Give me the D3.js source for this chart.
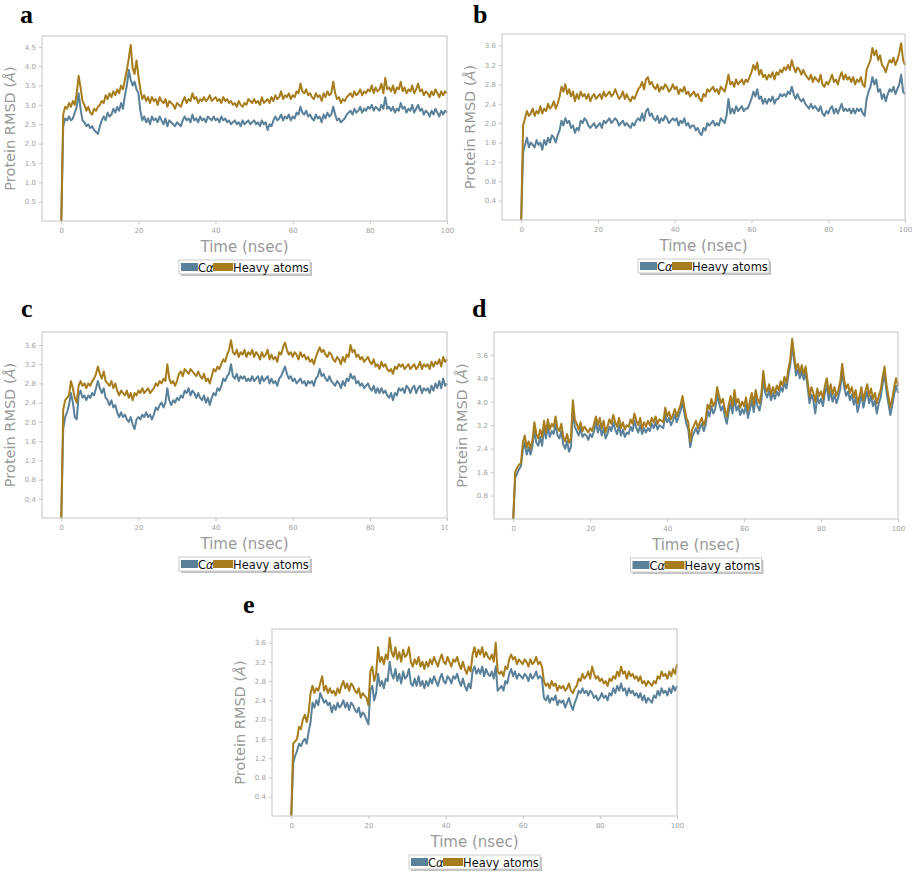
<!DOCTYPE html>
<html>
<head>
<meta charset="utf-8">
<script src="https://cdn.jsdelivr.net/npm/d3@7"></script>
<style>
body { margin: 0; background: #fff; }
</style>
</head>
<body>
<div id="hook"></div>
<script>
// RMSD sampled every 0.5 ns, 0..100 ns
var timeStep = 0.5;
var xTicks = [0, 20, 40, 60, 80, 100];
var yTicksA = [0.5, 1.0, 1.5, 2.0, 2.5, 3.0, 3.5, 4.0, 4.5];
var yTicksB = [0.4, 0.8, 1.2, 1.6, 2.0, 2.4, 2.8, 3.2, 3.6];
var yTicksD = [0.8, 1.6, 2.4, 3.2, 4.0, 4.8, 5.6];
var seriesNames = ["C\u03b1", "Heavy atoms"];

var aHeavy = [0, 2.75, 2.95, 2.9, 3.05, 2.95, 3.1, 3.0, 3.3, 3.75,
  3.45, 3.1, 3.0, 2.85, 2.95, 2.8, 2.75, 2.9, 2.85, 2.95,
  3.0, 3.1, 3.05, 3.25, 3.15, 3.3, 3.2, 3.35, 3.25, 3.4,
  3.3, 3.5, 3.4, 3.65, 3.9, 4.2, 4.55, 3.95, 3.8, 4.15,
  3.75, 3.4, 3.15, 3.25, 3.1, 3.2, 3.05, 3.2, 3.1, 3.15,
  3.0, 3.2, 3.1, 3.05, 3.15, 2.95, 3.1, 3.05, 3.0, 2.9,
  3.05, 3.0, 2.95, 3.1, 3.2, 3.05, 3.15, 3.1, 3.3, 3.15,
  3.2, 3.05, 3.15, 3.1, 3.2, 3.1, 3.15, 3.25, 3.1, 3.15,
  3.2, 3.1, 3.15, 3.05, 3.2, 3.1, 3.15, 3.05, 3.1, 3.0,
  3.05, 2.95, 3.1, 3.0, 2.95, 3.05, 3.0, 3.15, 3.1, 3.05,
  3.15, 3.05, 3.1, 3.0, 3.2, 3.05, 3.1, 3.15, 3.05, 3.2,
  3.1, 3.25, 3.15, 3.2, 3.35, 3.15, 3.25, 3.2, 3.3, 3.15,
  3.25, 3.2, 3.35, 3.3, 3.55, 3.35, 3.3, 3.4, 3.25, 3.3,
  3.2, 3.15, 3.3, 3.2, 3.25, 3.1, 3.3, 3.2, 3.35, 3.25,
  3.3, 3.6, 3.3, 3.15, 3.2, 3.05, 3.15, 3.1, 3.2, 3.25,
  3.3, 3.2, 3.35, 3.25, 3.3, 3.4, 3.25, 3.35, 3.3, 3.4,
  3.35, 3.5, 3.3, 3.45, 3.35, 3.4, 3.55, 3.3, 3.7, 3.4,
  3.45, 3.35, 3.5, 3.3, 3.45, 3.4, 3.6, 3.35, 3.45, 3.3,
  3.4, 3.35, 3.5, 3.3, 3.4, 3.55, 3.35, 3.4, 3.25, 3.35,
  3.3, 3.2, 3.35, 3.25, 3.4, 3.3, 3.2, 3.35, 3.25, 3.35,
  3.3];
var aCa = [0, 2.45, 2.65, 2.6, 2.7, 2.6, 2.65, 2.8, 2.95, 3.3,
  2.9, 2.6, 2.55, 2.45, 2.5, 2.4, 2.45, 2.35, 2.3, 2.25,
  2.45, 2.6, 2.7, 2.6, 2.8, 2.7, 2.75, 2.9, 2.8, 2.95,
  2.85, 3.05, 2.9, 3.25, 3.5, 3.9, 3.65, 3.5, 3.6, 3.4,
  3.3, 2.85, 2.6, 2.7, 2.55, 2.65, 2.5, 2.7, 2.6, 2.65,
  2.55, 2.7, 2.6, 2.5, 2.65, 2.45, 2.6, 2.55, 2.5, 2.45,
  2.55, 2.5, 2.45, 2.6, 2.7, 2.6, 2.65, 2.55, 2.75, 2.6,
  2.65, 2.55, 2.7, 2.6, 2.65, 2.55, 2.7, 2.65, 2.6, 2.7,
  2.6, 2.65, 2.55, 2.7, 2.6, 2.65, 2.55, 2.6, 2.5, 2.55,
  2.6, 2.5, 2.55, 2.45, 2.6, 2.5, 2.55, 2.6, 2.5, 2.55,
  2.6, 2.5, 2.55, 2.45, 2.6, 2.5, 2.55, 2.35, 2.5, 2.45,
  2.6, 2.7, 2.6, 2.65, 2.75, 2.6, 2.7, 2.65, 2.75, 2.6,
  2.7, 2.65, 2.8, 2.75, 2.95, 2.8, 2.75, 2.85, 2.7, 2.75,
  2.65, 2.6, 2.75, 2.65, 2.7, 2.55, 2.75, 2.65, 2.8, 2.7,
  2.75, 2.95, 2.75, 2.6, 2.65, 2.55, 2.6, 2.65, 2.75, 2.8,
  2.85, 2.75, 2.9, 2.8, 2.85, 2.95, 2.8, 2.9, 2.85, 2.95,
  2.9, 3.0, 2.85, 2.95, 2.9, 2.85, 3.0, 2.9, 3.2, 2.9,
  2.95, 2.85, 2.95, 2.8, 2.9, 2.85, 3.05, 2.9, 2.95, 2.8,
  2.9, 2.85, 3.0, 2.8, 2.9, 3.0, 2.85, 2.9, 2.75, 2.85,
  2.8, 2.7, 2.85, 2.75, 2.9, 2.8, 2.7, 2.85, 2.75, 2.85,
  2.8];

var bHeavy = [0, 1.95, 2.1, 2.25, 2.15, 2.2, 2.3, 2.15, 2.25, 2.2,
  2.35, 2.2, 2.3, 2.25, 2.4, 2.3, 2.35, 2.45, 2.3, 2.4,
  2.55, 2.75, 2.65, 2.8, 2.6, 2.7, 2.55, 2.65, 2.45, 2.6,
  2.5, 2.65, 2.55, 2.6, 2.5, 2.6, 2.45, 2.55, 2.6, 2.5,
  2.55, 2.6, 2.5, 2.65, 2.55, 2.6, 2.65, 2.55, 2.6, 2.7,
  2.6, 2.5, 2.55, 2.65, 2.5, 2.6, 2.5, 2.45, 2.55, 2.5,
  2.6, 2.7, 2.75, 2.85, 2.7, 2.9, 2.95, 2.8, 2.85, 2.75,
  2.7, 2.8, 2.65, 2.75, 2.7, 2.8, 2.75, 2.65, 2.7, 2.8,
  2.7, 2.75, 2.6, 2.7, 2.65, 2.75, 2.6, 2.65, 2.55, 2.6,
  2.65, 2.55, 2.6, 2.5, 2.45, 2.6, 2.55, 2.7, 2.65, 2.7,
  2.75, 2.65, 2.7, 2.6, 2.75, 2.7, 2.65, 2.8, 3.0, 2.8,
  2.85, 2.75, 2.9, 2.8, 2.85, 2.9, 2.8, 2.9, 2.85, 2.95,
  3.05, 3.2, 3.1, 3.25, 3.0, 3.1, 2.95, 3.0, 2.9, 3.0,
  2.95, 3.05, 2.9, 3.05, 3.0, 3.1, 3.05, 3.15, 3.1, 3.2,
  3.1, 3.3, 3.15, 3.05, 3.15, 3.1, 3.0, 3.1, 3.0, 2.95,
  2.9, 3.0, 2.85, 2.95, 2.9, 2.85, 3.0, 2.8, 2.75, 2.85,
  2.8, 2.9, 3.0, 2.85, 2.9, 2.8, 2.95, 3.05, 2.9, 3.0,
  2.9, 2.95, 2.85, 2.95, 2.8, 2.9, 2.85, 2.95, 2.8, 2.75,
  3.1, 3.2, 3.3, 3.55, 3.4, 3.5, 3.3, 3.4, 3.2, 3.15,
  3.05, 3.2, 3.3, 3.25, 3.35, 3.2, 3.3, 3.45, 3.65, 3.3,
  3.2];
var bCa = [0, 1.4, 1.55, 1.7, 1.5, 1.6, 1.55, 1.5, 1.65, 1.55,
  1.6, 1.45, 1.65, 1.55, 1.7, 1.6, 1.75, 1.7, 1.6, 1.75,
  1.85, 2.05, 1.95, 2.1, 2.0, 2.05, 1.9, 1.95, 1.8, 1.9,
  1.85, 2.05, 2.0, 2.1, 2.05, 1.95, 1.9, 1.95, 2.0, 1.9,
  1.95, 2.0, 1.9, 2.05, 2.0, 2.05, 2.1, 2.0, 2.05, 2.1,
  2.05, 1.95, 2.0, 2.05, 1.95, 2.0, 1.95, 1.9, 2.0, 1.95,
  2.05, 2.1, 2.05, 2.2, 2.05, 2.25, 2.3, 2.15, 2.2, 2.1,
  2.05, 2.15, 2.0, 2.1, 2.05, 2.15, 2.1, 2.0, 2.05, 2.1,
  2.05, 2.1, 1.95, 2.05, 2.0, 2.1, 1.95, 2.0, 1.9, 1.95,
  1.95, 1.85, 1.9, 1.8, 1.75, 1.9, 1.85, 2.0, 1.95, 2.0,
  2.05, 1.95, 2.0, 1.95, 2.1, 2.05, 2.0, 2.15, 2.5, 2.2,
  2.3, 2.2, 2.35, 2.25, 2.3, 2.35, 2.25, 2.3, 2.3, 2.4,
  2.5, 2.65, 2.55, 2.7, 2.5, 2.55, 2.4, 2.5, 2.4, 2.5,
  2.45, 2.55, 2.4, 2.5, 2.5, 2.6, 2.55, 2.6, 2.55, 2.65,
  2.6, 2.75, 2.6, 2.5, 2.6, 2.5, 2.45, 2.5, 2.4, 2.35,
  2.3, 2.4, 2.3, 2.35, 2.3, 2.25, 2.35, 2.2, 2.15, 2.25,
  2.2, 2.3, 2.35, 2.2, 2.3, 2.2, 2.3, 2.4, 2.25, 2.3,
  2.25, 2.3, 2.2, 2.3, 2.2, 2.3, 2.25, 2.3, 2.2, 2.15,
  2.5, 2.65, 2.75, 2.95, 2.8, 2.9, 2.65, 2.7, 2.5, 2.6,
  2.45, 2.6, 2.7, 2.65, 2.75, 2.6, 2.7, 2.8, 3.0, 2.65,
  2.6];

var cHeavy = [0, 2.25, 2.45, 2.5, 2.55, 2.85, 2.7, 2.5, 2.4, 2.75,
  2.85, 2.75, 2.8, 2.7, 2.8, 2.75, 2.85, 2.9, 3.0, 3.15,
  3.0, 2.9, 3.05, 2.85, 2.8, 2.75, 2.85, 2.7, 2.8, 2.65,
  2.55, 2.65, 2.6, 2.55, 2.65, 2.5, 2.6, 2.45, 2.6, 2.55,
  2.65, 2.6, 2.7, 2.6, 2.65, 2.7, 2.6, 2.65, 2.7, 2.8,
  2.75, 2.85, 2.8, 2.9, 2.85, 3.2, 2.9, 2.8, 2.85, 2.75,
  2.85, 3.0, 3.05, 2.95, 3.1, 3.05, 3.0, 3.1, 3.05, 3.0,
  2.95, 3.05, 2.95, 2.9, 3.0, 2.85, 2.9, 2.8, 2.95, 3.1,
  3.05, 3.15, 3.1, 3.2, 3.3, 3.25, 3.4, 3.5, 3.7, 3.45,
  3.4, 3.5, 3.35, 3.45, 3.4, 3.5, 3.35, 3.45, 3.4, 3.5,
  3.35, 3.45, 3.4, 3.3, 3.45, 3.35, 3.4, 3.5, 3.3, 3.4,
  3.3, 3.35, 3.25, 3.45, 3.4, 3.55, 3.65, 3.5, 3.4, 3.45,
  3.35, 3.45, 3.4, 3.3, 3.45, 3.35, 3.4, 3.3, 3.35, 3.25,
  3.3, 3.2, 3.35, 3.45, 3.55, 3.45, 3.5, 3.4, 3.35, 3.45,
  3.4, 3.3, 3.25, 3.35, 3.3, 3.2, 3.35, 3.25, 3.4, 3.35,
  3.6, 3.45, 3.5, 3.35, 3.4, 3.3, 3.35, 3.25, 3.3, 3.35,
  3.25, 3.2, 3.3, 3.15, 3.2, 3.1, 3.25, 3.15, 3.2, 3.1,
  3.05, 3.1, 3.0, 3.15, 3.1, 3.2, 3.15, 3.2, 3.1, 3.15,
  3.2, 3.1, 3.15, 3.2, 3.1, 3.15, 3.25, 3.1, 3.2, 3.15,
  3.2, 3.1, 3.25, 3.15, 3.25, 3.2, 3.3, 3.15, 3.35, 3.25,
  3.3];
var cCa = [0, 1.85, 2.1, 2.2, 2.35, 2.6, 2.4, 2.1, 2.05, 2.55,
  2.65, 2.5, 2.55, 2.45, 2.55, 2.5, 2.6, 2.55, 2.7, 2.85,
  2.7, 2.6, 2.7, 2.5, 2.45, 2.35, 2.45, 2.3, 2.35, 2.2,
  2.1, 2.2, 2.1, 2.15, 2.05, 2.0, 2.1, 1.95, 1.85, 2.05,
  2.1, 2.05, 2.15, 2.1, 2.2, 2.1, 2.15, 2.05, 2.15, 2.3,
  2.25, 2.35, 2.4, 2.3, 2.4, 2.7, 2.45, 2.35, 2.45, 2.4,
  2.5, 2.45, 2.55, 2.5, 2.65, 2.6, 2.7, 2.55, 2.65, 2.6,
  2.5, 2.6, 2.5, 2.45, 2.55, 2.4, 2.5, 2.35, 2.5, 2.6,
  2.55, 2.7, 2.65, 2.75, 2.9, 2.85, 2.95, 3.0, 3.2, 2.95,
  2.9, 3.0, 2.85, 2.95, 2.9, 2.95, 2.85, 2.9, 2.85, 2.95,
  2.85, 2.9, 2.95, 2.8, 2.95, 2.85, 2.9, 2.95, 2.8, 2.9,
  2.8, 2.85, 2.75, 2.9, 2.95, 3.05, 3.15, 3.0, 2.9, 2.95,
  2.85, 2.9, 2.8, 2.85, 2.9, 2.8, 2.85, 2.75, 2.85, 2.8,
  2.85, 2.75, 2.9, 2.95, 3.1, 2.95, 3.0, 2.9, 2.85, 2.95,
  2.85, 2.8, 2.75, 2.85, 2.8, 2.7, 2.85, 2.75, 2.9, 2.85,
  3.0, 2.9, 2.95, 2.8, 2.85, 2.75, 2.8, 2.7, 2.75, 2.8,
  2.7, 2.65, 2.75, 2.6, 2.7, 2.6, 2.7, 2.6, 2.65, 2.55,
  2.5, 2.6, 2.45, 2.6, 2.55, 2.7, 2.65, 2.7, 2.6, 2.75,
  2.7, 2.6, 2.7, 2.75, 2.6, 2.7, 2.75, 2.6, 2.7, 2.65,
  2.7, 2.6, 2.75, 2.65, 2.8, 2.7, 2.85, 2.7, 2.9, 2.75,
  2.8];

var dHeavy = [0, 1.6, 1.75, 1.85, 1.9, 2.6, 2.85, 2.45, 2.65, 2.4,
  2.7, 3.3, 2.9, 2.75, 3.05, 2.8, 3.35, 2.95, 3.4, 3.05,
  3.25, 3.15, 3.5, 3.1, 3.0, 3.25, 2.8, 2.65, 2.9, 2.6,
  2.75, 4.05, 3.4, 3.25, 3.05, 3.3, 3.0, 3.15, 3.05, 2.95,
  3.1, 3.0, 3.25, 3.5, 3.2, 3.45, 3.1, 3.35, 2.95, 3.15,
  3.4, 3.25, 3.55, 3.3, 3.15, 3.45, 3.1, 3.3, 3.05, 3.2,
  3.15, 3.4, 3.25, 3.6, 3.35, 3.2, 3.45, 3.1, 3.3, 3.15,
  3.35, 3.2, 3.45, 3.3, 3.5, 3.25, 3.4, 3.35, 3.3, 3.8,
  3.5, 3.65, 3.4, 3.55, 3.75, 3.5, 3.7, 3.9, 4.2, 3.8,
  3.45, 3.3, 2.65, 3.05, 3.2, 3.35, 3.1, 3.3, 3.45, 3.2,
  3.4, 3.9, 3.75, 4.1, 3.85, 4.0, 4.5, 4.2, 3.95, 4.1,
  3.75, 3.5, 3.9, 4.2, 3.85, 4.4, 3.95, 4.1, 3.8, 4.0,
  3.85, 4.15, 3.7, 4.0, 4.3, 3.9, 4.4, 4.1, 3.95, 4.3,
  5.05, 4.5, 4.35, 4.6, 4.25, 4.5, 4.3, 4.55, 4.4, 4.7,
  4.55, 4.85, 4.65, 5.1, 5.45, 6.15, 5.6, 5.1, 5.3, 5.0,
  5.25, 4.95, 5.2, 4.7, 4.2, 4.5, 4.3, 4.0, 4.45, 4.2,
  4.35, 4.1, 4.55, 4.8, 4.3, 4.6, 4.25, 4.5, 4.2, 4.4,
  4.7, 5.3, 4.75, 4.45, 4.6, 4.3, 4.5, 4.15, 4.4, 3.95,
  4.2, 4.5, 4.05, 4.35, 4.6, 4.2, 4.45, 4.1, 4.3, 3.95,
  4.2, 4.4, 4.85, 5.2, 4.6, 4.2, 3.8, 4.1, 4.5, 4.8,
  4.55];
var dCa = [0, 1.4, 1.55, 1.7, 1.8, 2.35, 2.6, 2.2, 2.45, 2.2,
  2.5, 3.05, 2.6, 2.5, 2.8, 2.5, 3.1, 2.75, 3.15, 2.8,
  3.0, 2.9, 3.25, 2.85, 2.75, 3.0, 2.55, 2.4, 2.65, 2.3,
  2.45, 3.75, 3.15, 3.0, 2.85, 3.1, 2.8, 2.9, 2.85, 2.7,
  2.9, 2.8, 3.0, 3.3, 2.95, 3.2, 2.85, 3.1, 2.75, 2.9,
  3.15, 3.0, 3.3, 3.05, 2.9, 3.2, 2.85, 3.05, 2.8, 2.95,
  2.9, 3.15, 3.0, 3.35, 3.1, 2.95, 3.2, 2.9, 3.1, 2.95,
  3.1, 3.0, 3.25, 3.1, 3.3, 3.05, 3.2, 3.15, 3.1, 3.55,
  3.3, 3.45, 3.2, 3.35, 3.55, 3.3, 3.5, 3.7, 4.0, 3.6,
  3.25, 3.05, 2.45, 2.8, 2.95, 3.1, 2.9, 3.1, 3.25, 3.0,
  3.2, 3.7, 3.5, 3.85, 3.6, 3.75, 4.25, 3.95, 3.7, 3.85,
  3.5, 3.25, 3.65, 3.95, 3.6, 4.15, 3.7, 3.85, 3.55, 3.75,
  3.6, 3.9, 3.45, 3.75, 4.05, 3.65, 4.15, 3.85, 3.7, 4.05,
  4.8, 4.3, 4.15, 4.4, 4.05, 4.3, 4.1, 4.35, 4.2, 4.5,
  4.35, 4.65, 4.45, 4.9, 5.25, 5.9, 5.4, 4.9, 5.1, 4.8,
  5.05, 4.75, 5.0, 4.5, 3.95, 4.25, 4.05, 3.6, 4.2, 3.95,
  4.1, 3.85, 4.3, 4.55, 4.05, 4.35, 4.0, 4.25, 3.95, 4.15,
  4.45, 5.05, 4.5, 4.2, 4.35, 4.05, 4.25, 3.9, 4.15, 3.65,
  3.95, 4.25, 3.8, 4.1, 4.35, 3.95, 4.2, 3.85, 4.05, 3.6,
  3.95, 4.15, 4.6, 4.95, 4.35, 3.95, 3.55, 3.85, 4.25, 4.55,
  4.3];

var eHeavy = [0, 1.5, 1.55, 1.6, 1.85, 1.8, 2.0, 2.1, 1.95, 2.15,
  2.55, 2.7, 2.55, 2.65, 2.6, 2.75, 2.9, 2.6, 2.7, 2.55,
  2.65, 2.55, 2.6, 2.5, 2.65, 2.55, 2.7, 2.8, 2.65, 2.75,
  2.6, 2.75, 2.7, 2.6, 2.55, 2.65, 2.45, 2.55, 2.5, 2.45,
  2.3, 3.0, 3.1, 2.8, 2.95, 3.5, 3.2, 3.3, 3.15, 3.35,
  3.25, 3.7, 3.4, 3.3, 3.5, 3.25, 3.4, 3.2, 3.45, 3.3,
  3.35, 3.5, 3.2, 3.1, 3.25, 3.15, 3.3, 3.1, 3.2, 3.05,
  3.2, 3.1, 3.25, 3.15, 3.3, 3.2, 3.1, 3.25, 3.35, 3.2,
  3.15, 3.3, 3.2, 3.1, 3.25, 3.2, 3.3, 3.15, 3.05, 3.2,
  3.05, 2.95, 3.1, 3.0, 3.35, 3.5, 3.3, 3.45, 3.35, 3.5,
  3.3, 3.4, 3.3, 3.25, 3.35, 3.2, 3.6, 3.0, 2.95, 3.0,
  2.9, 3.1, 3.05, 3.25, 3.35, 3.25, 3.3, 3.15, 3.25, 3.2,
  3.15, 3.25, 3.2, 3.1, 3.25, 3.15, 3.2, 3.3, 3.15, 3.2,
  3.1, 2.8, 2.7, 2.75, 2.65, 2.8, 2.7, 2.75, 2.6, 2.7,
  2.65, 2.7, 2.6, 2.65, 2.75, 2.6, 2.55, 2.65, 2.7, 2.85,
  2.8, 2.95, 2.85, 2.9, 3.0, 2.85, 3.1, 2.95, 2.85, 2.9,
  2.8, 2.85, 2.75, 2.8, 2.7, 2.85, 2.8, 2.9, 2.85, 3.0,
  2.9, 3.1, 2.95, 3.0, 2.85, 3.0, 2.9, 2.95, 2.85, 2.9,
  2.8, 2.9, 2.75, 2.8, 2.7, 2.8, 2.75, 2.7, 2.8, 2.75,
  2.9, 2.85, 3.0, 2.9, 2.95, 2.85, 3.0, 2.9, 3.05, 2.95,
  3.15];
var eCa = [0, 1.1, 1.25, 1.35, 1.5, 1.45, 1.55, 1.6, 1.5, 1.75,
  1.95, 2.35, 2.25, 2.4, 2.3, 2.55, 2.45, 2.35, 2.4, 2.3,
  2.35, 2.15, 2.3, 2.2, 2.35, 2.25, 2.3, 2.4, 2.25, 2.35,
  2.2, 2.35, 2.3, 2.2, 2.15, 2.25, 2.05, 2.15, 2.1, 2.0,
  1.9, 2.6, 2.7, 2.4, 2.55, 2.95, 2.7, 2.8, 2.65, 2.85,
  2.8, 3.2, 2.95, 2.85, 3.05, 2.8, 2.95, 2.75, 3.0, 2.85,
  2.9, 3.05, 2.75, 2.7, 2.85, 2.7, 2.9, 2.7, 2.8, 2.65,
  2.8, 2.7, 2.85, 2.75, 2.9, 2.8, 2.7, 2.85, 2.95, 2.8,
  2.75, 2.9, 2.85, 2.75, 2.9, 2.85, 2.95, 2.8, 2.7, 2.85,
  2.7, 2.6, 2.75, 2.65, 3.0, 3.1, 2.95, 3.05, 2.95, 3.1,
  2.9, 3.05, 2.95, 2.9, 3.0, 2.85, 3.1, 2.6, 2.65, 2.7,
  2.6, 2.8, 2.75, 2.95, 3.05, 2.9, 3.0, 2.85, 2.95, 2.9,
  2.85, 2.95, 2.9, 2.8, 2.95, 2.85, 2.9, 3.0, 2.85, 2.9,
  2.85, 2.45, 2.4, 2.5, 2.35, 2.45, 2.4, 2.5, 2.3, 2.4,
  2.35, 2.4, 2.25, 2.35, 2.45, 2.3, 2.2, 2.35, 2.45, 2.6,
  2.55, 2.65, 2.55, 2.6, 2.5, 2.6, 2.55, 2.45, 2.5, 2.4,
  2.45, 2.55, 2.45, 2.5, 2.4, 2.55, 2.5, 2.65, 2.55, 2.7,
  2.6, 2.75, 2.6, 2.65, 2.5, 2.65, 2.55, 2.6, 2.5, 2.55,
  2.45, 2.55, 2.4, 2.5, 2.35, 2.45, 2.4, 2.35, 2.5, 2.45,
  2.6, 2.5, 2.65, 2.55, 2.6, 2.5, 2.65, 2.55, 2.7, 2.6,
  2.7];

var colors = ["#5a8199", "#a67c1c"];

var panels = [
    {name: "a", ca: aCa, heavy: aHeavy, yMax: 4.78, yTicks: yTicksA, left: 42, top: 36, right: 447, bottom: 221, lx: 20, ly: 23, clip: 455},
    {name: "b", ca: bCa, heavy: bHeavy, yMax: 3.84, yTicks: yTicksB, left: 502, top: 34, right: 905, bottom: 220, lx: 473, ly: 23, clip: 915},
    {name: "c", ca: cCa, heavy: cHeavy, yMax: 3.87, yTicks: yTicksB, left: 42, top: 332, right: 447, bottom: 518, lx: 21, ly: 317, clip: 448},
    {name: "d", ca: dCa, heavy: dHeavy, yMax: 6.38, yTicks: yTicksD, left: 494, top: 332, right: 898, bottom: 519, lx: 472, ly: 317, clip: 915},
    {name: "e", ca: eCa, heavy: eHeavy, yMax: 3.88, yTicks: yTicksB, left: 272, top: 629, right: 677, bottom: 816, lx: 243, ly: 613, clip: 915}
];

var svg = d3.select("#hook")
    .append("svg")
    .attr("width", 915)
    .attr("height", 873)
    .style("font-family", "'DejaVu Sans', sans-serif");

var defs = svg.append("defs");

panels.forEach(function (p, k) {
    defs.append("clipPath").attr("id", "clip" + k)
        .append("rect").attr("x", 0).attr("y", 0).attr("width", p.clip).attr("height", 873);

    var g = svg.append("g").attr("clip-path", "url(#clip" + k + ")");

    var x = d3.scaleLinear().domain([-5, 100]).range([p.left, p.right]);
    var y = d3.scaleLinear().domain([0, p.yMax]).range([p.bottom, p.top]);

    // panel letter
    svg.append("text")
        .attr("x", p.lx).attr("y", p.ly)
        .style("font-family", "'Liberation Serif', 'Times New Roman', serif")
        .style("font-weight", "bold")
        .style("font-size", "26px")
        .style("fill", "#000")
        .text(p.name);

    var xAxis = g.append("g")
        .attr("transform", "translate(0," + p.bottom + ")")
        .call(d3.axisBottom(x).tickValues(xTicks).tickSize(3).tickPadding(4).tickFormat(d3.format("d")));
    var yAxis = g.append("g")
        .attr("transform", "translate(" + p.left + ",0)")
        .call(d3.axisLeft(y).tickValues(p.yTicks).tickSize(3).tickPadding(3).tickFormat(d3.format(".1f")));
    [xAxis, yAxis].forEach(function (ax) {
        ax.select(".domain").remove();
        ax.selectAll("line").attr("stroke", "#c4c4c4");
        ax.selectAll("text").style("font-size", "7px").style("fill", "#a0a0a0")
            .style("font-family", "'DejaVu Sans', sans-serif");
    });

    var line = d3.line()
        .x(function (d, i) { return x(i * timeStep); })
        .y(function (d) { return y(d); });

    g.append("path").datum(p.ca)
        .attr("d", line)
        .attr("fill", "none")
        .attr("stroke", colors[0])
        .attr("stroke-width", 2)
        .attr("stroke-linejoin", "round");
    g.append("path").datum(p.heavy)
        .attr("d", line)
        .attr("fill", "none")
        .attr("stroke", colors[1])
        .attr("stroke-width", 2)
        .attr("stroke-linejoin", "round");

    g.append("rect")
        .attr("x", p.left).attr("y", p.top)
        .attr("width", p.right - p.left).attr("height", p.bottom - p.top)
        .attr("fill", "none").attr("stroke", "#c4c4c4").attr("stroke-width", 1);

    var cx = (p.left + p.right) / 2;
    g.append("text")
        .attr("x", cx).attr("y", p.bottom + 31)
        .attr("text-anchor", "middle")
        .style("font-size", "15px").style("fill", "#999")
        .text("Time (nsec)");

    var yl = g.append("text")
        .attr("transform", "translate(" + (p.left - 27) + "," + ((p.top + p.bottom) / 2) + ") rotate(-90)")
        .attr("text-anchor", "middle")
        .style("font-size", "14.5px").style("fill", "#999");
    yl.append("tspan").text("Protein RMSD (");
    yl.append("tspan").style("font-style", "italic").text("\u00c5");
    yl.append("tspan").text(")");

    // legend
    var lw = 131, lh = 14;
    var lg = g.append("g").attr("transform", "translate(" + (cx - lw / 2) + "," + (p.bottom + 39) + ")");
    lg.append("rect").attr("x", 2).attr("y", 2).attr("width", lw).attr("height", lh)
        .attr("fill", "#999").attr("opacity", 0.6);
    lg.append("rect").attr("x", 0).attr("y", 0).attr("width", lw).attr("height", lh)
        .attr("fill", "#fff").attr("stroke", "#ccc");
    lg.append("rect").attr("x", 2).attr("y", 3).attr("width", 17).attr("height", 8).attr("fill", colors[0]);
    var t1 = lg.append("text").attr("x", 19).attr("y", 11.5).style("font-size", "11.5px").style("fill", "#111");
    t1.append("tspan").text("C");
    t1.append("tspan").style("font-style", "italic").text("\u03b1");
    lg.append("rect").attr("x", 34).attr("y", 3).attr("width", 20).attr("height", 8).attr("fill", colors[1]);
    lg.append("text").attr("x", 54).attr("y", 11.5).style("font-size", "11.5px").style("fill", "#111")
        .text(seriesNames[1]);
});
</script>
</body>
</html>
